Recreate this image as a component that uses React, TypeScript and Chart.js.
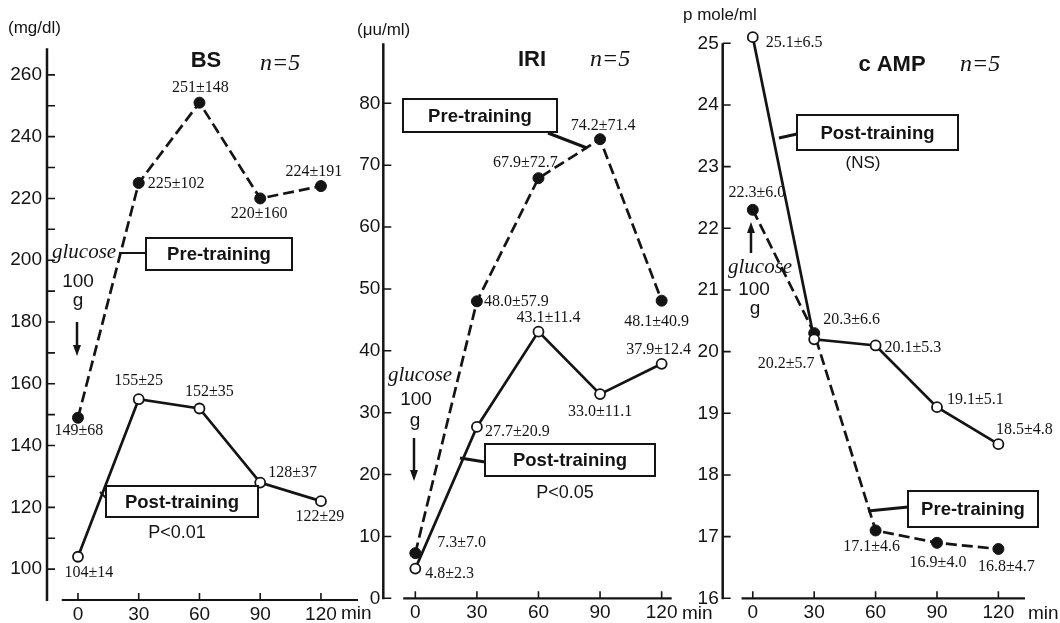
import { useEffect, useRef } from 'react';
import { Chart, registerables } from 'chart.js';

Chart.register(...registerables);

const W = 1060;
const H = 623;
const Y_AXIS_W = 60;
const INK = '#141414';
const SANS = '"Liberation Sans", Arial, sans-serif';
const SERIF = '"Liberation Serif", "Times New Roman", serif';

// Sampling times after the 100 g oral glucose load (min)
const minutes = [0, 30, 60, 90, 120];
const minuteTicks = [0, 30, 60, 90, 120];

// Blood sugar, mg/dl (mean ± SD)
const bsPre = [149, 225, 251, 220, 224];
const bsPreSd = [68, 102, 148, 160, 191];
const bsPost = [104, 155, 152, 128, 122];
const bsPostSd = [14, 25, 35, 37, 29];
const bsTicks = [100, 110, 120, 130, 140, 150, 160, 170, 180, 190, 200, 210, 220, 230, 240, 250, 260];
const bsTickLabels = [100, 120, 140, 160, 180, 200, 220, 240, 260];

// Immunoreactive insulin, μU/ml (mean ± SD)
const iriPre = [7.3, 48.0, 67.9, 74.2, 48.1];
const iriPreSd = [7.0, 57.9, 72.7, 71.4, 40.9];
const iriPost = [4.8, 27.7, 43.1, 33.0, 37.9];
const iriPostSd = [2.3, 20.9, 11.4, 11.1, 12.4];
const iriTicks = [0, 10, 20, 30, 40, 50, 60, 70, 80];

// Cyclic AMP, pmole/ml (mean ± SD)
const campPre = [22.3, 20.3, 17.1, 16.9, 16.8];
const campPreSd = [6.0, 6.6, 4.6, 4.0, 4.7];
const campPost = [25.1, 20.2, 20.1, 19.1, 18.5];
const campPostSd = [6.5, 5.7, 5.3, 5.1, 4.8];
const campTicks = [16, 17, 18, 19, 20, 21, 22, 23, 24, 25];

type Offset = [number, number, CanvasTextAlign];

type Note =
  | { t: 'text'; s: string; x: number; y: number; font: string; align?: CanvasTextAlign }
  | { t: 'box'; s: string; x: number; y: number; w: number; h: number }
  | { t: 'line'; pts: number[]; lw?: number }
  | { t: 'arrow'; x: number; from: number; to: number };

interface PanelSpec {
  area: { left: number; right: number; top: number; bottom: number };
  xRange: [number, number];
  xLineStart: number;
  yRange: [number, number];
  yTicks: number[];
  yLabels: number[];
  yLabelPad: number;
  pre: number[];
  preSd: number[];
  post: number[];
  postSd: number[];
  decimals: number;
  preOffsets: Offset[];
  postOffsets: Offset[];
  notes: Note[];
}

const boxFont = `bold 18.5px ${SANS}`;
const valueFont = `16px ${SERIF}`;

const panels: PanelSpec[] = [
  {
    area: { left: 47, right: 358, top: 48.3, bottom: 600 },
    xRange: [-15.3, 138.3],
    xLineStart: -8,
    yRange: [90, 268.6],
    yTicks: bsTicks,
    yLabels: bsTickLabels,
    yLabelPad: 5,
    pre: bsPre,
    preSd: bsPreSd,
    post: bsPost,
    postSd: bsPostSd,
    decimals: 0,
    preOffsets: [[1, 13, 'center'], [9, 1, 'left'], [1, -15, 'center'], [-1, 15, 'center'], [-7, -14, 'center']],
    postOffsets: [[11, 16, 'center'], [0, -18, 'center'], [10, -17, 'center'], [8, -10, 'left'], [-1, 16, 'center']],
    notes: [
      { t: 'text', s: '(mg/dl)', x: 8, y: 28, font: `17px ${SANS}`, align: 'left' },
      { t: 'text', s: 'BS', x: 206, y: 61, font: `bold 22px ${SANS}` },
      { t: 'text', s: 'n=5', x: 260, y: 64, font: `italic 24px ${SERIF}`, align: 'left' },
      { t: 'text', s: 'glucose', x: 52, y: 252, font: `italic 21px ${SERIF}`, align: 'left' },
      { t: 'text', s: '100', x: 78, y: 282, font: `19px ${SANS}` },
      { t: 'text', s: 'g', x: 78, y: 301, font: `19px ${SANS}` },
      { t: 'arrow', x: 77, from: 322, to: 356 },
      { t: 'line', pts: [146, 253, 119, 253] },
      { t: 'box', s: 'Pre-training', x: 146, y: 238, w: 146, h: 32 },
      { t: 'line', pts: [106, 498, 100, 492] },
      { t: 'box', s: 'Post-training', x: 106, y: 486, w: 152, h: 31 },
      { t: 'text', s: 'P<0.01', x: 177, y: 533, font: `18px ${SANS}` },
      { t: 'text', s: 'min', x: 341, y: 614, font: `19px ${SANS}`, align: 'left' },
    ],
  },
  {
    area: { left: 383.3, right: 671.7, top: 43.3, bottom: 598.3 },
    xRange: [-15.6, 124.9],
    xLineStart: -5.9,
    yRange: [0, 89.7],
    yTicks: iriTicks,
    yLabels: iriTicks,
    yLabelPad: 3,
    pre: iriPre,
    preSd: iriPreSd,
    post: iriPost,
    postSd: iriPostSd,
    decimals: 1,
    preOffsets: [[22, -10, 'left'], [7, 0, 'left'], [-13, -15, 'center'], [3, -13, 'center'], [-5, 21, 'center']],
    postOffsets: [[10, 5, 'left'], [8, 5, 'left'], [10, -14, 'center'], [0, 18, 'center'], [-3, -14, 'center']],
    notes: [
      { t: 'text', s: '(μu/ml)', x: 357, y: 30, font: `17px ${SANS}`, align: 'left' },
      { t: 'text', s: 'IRI', x: 532, y: 60, font: `bold 22px ${SANS}` },
      { t: 'text', s: 'n=5', x: 590, y: 60, font: `italic 24px ${SERIF}`, align: 'left' },
      { t: 'text', s: 'glucose', x: 388, y: 375, font: `italic 21px ${SERIF}`, align: 'left' },
      { t: 'text', s: '100', x: 416, y: 400, font: `19px ${SANS}` },
      { t: 'text', s: 'g', x: 415, y: 421, font: `19px ${SANS}` },
      { t: 'arrow', x: 414, from: 438, to: 481 },
      { t: 'line', pts: [548, 133, 587, 148], lw: 3 },
      { t: 'box', s: 'Pre-training', x: 403, y: 99, w: 154, h: 33 },
      { t: 'line', pts: [485, 462, 460, 458], lw: 3 },
      { t: 'box', s: 'Post-training', x: 485, y: 444, w: 170, h: 32 },
      { t: 'text', s: 'P<0.05', x: 565, y: 493, font: `18px ${SANS}` },
      { t: 'text', s: 'min', x: 682, y: 614, font: `19px ${SANS}`, align: 'left' },
    ],
  },
  {
    area: { left: 722.7, right: 1025, top: 43.3, bottom: 598.3 },
    xRange: [-14.7, 133.0],
    xLineStart: -5.5,
    yRange: [16, 25],
    yTicks: campTicks,
    yLabels: campTicks,
    yLabelPad: 4,
    pre: campPre,
    preSd: campPreSd,
    post: campPost,
    postSd: campPostSd,
    decimals: 1,
    preOffsets: [[4, -17, 'center'], [9, -13, 'left'], [-4, 16, 'center'], [1, 20, 'center'], [8, 18, 'center']],
    postOffsets: [[13, 6, 'left'], [-28, 24, 'center'], [9, 2, 'left'], [10, -7, 'left'], [26, -14, 'center']],
    notes: [
      { t: 'text', s: 'p mole/ml', x: 683, y: 15, font: `17px ${SANS}`, align: 'left' },
      { t: 'text', s: 'c AMP', x: 892, y: 65, font: `bold 22px ${SANS}` },
      { t: 'text', s: 'n=5', x: 960, y: 65, font: `italic 24px ${SERIF}`, align: 'left' },
      { t: 'arrow', x: 751, from: 253, to: 222 },
      { t: 'text', s: 'glucose', x: 728, y: 267, font: `italic 21px ${SERIF}`, align: 'left' },
      { t: 'text', s: '100', x: 754, y: 290, font: `19px ${SANS}` },
      { t: 'text', s: 'g', x: 755, y: 309, font: `19px ${SANS}` },
      { t: 'line', pts: [797, 134, 779, 138], lw: 3 },
      { t: 'box', s: 'Post-training', x: 797, y: 115, w: 161, h: 35 },
      { t: 'text', s: '(NS)', x: 863, y: 163, font: `17px ${SANS}` },
      { t: 'line', pts: [908, 507, 868, 511], lw: 3 },
      { t: 'box', s: 'Pre-training', x: 908, y: 491, w: 130, h: 36 },
      { t: 'text', s: 'min', x: 1028, y: 614, font: `19px ${SANS}`, align: 'left' },
    ],
  },
];

function fmt(v: number, sd: number, d: number) {
  return `${v.toFixed(d)}±${sd.toFixed(d)}`;
}

// Draws the axis frame (detached x axis, inward ticks), the value labels
// beside each point and the panel annotations.
function makeDecor(spec: PanelSpec) {
  return {
    id: 'panelDecor',
    afterDraw(chart: any) {
      const ctx: CanvasRenderingContext2D = chart.ctx;
      const { left, right, top, bottom } = chart.chartArea;
      const xs = chart.scales.x;
      const ys = chart.scales.y;
      ctx.save();
      ctx.strokeStyle = INK;
      ctx.fillStyle = INK;
      ctx.lineCap = 'butt';

      // vertical axis
      ctx.lineWidth = 2.5;
      ctx.beginPath();
      ctx.moveTo(left, top);
      ctx.lineTo(left, bottom + 1);
      ctx.stroke();
      ctx.lineWidth = 1.6;
      ctx.beginPath();
      spec.yTicks.forEach((v) => {
        const y = ys.getPixelForValue(v);
        ctx.moveTo(left, y);
        ctx.lineTo(left + 8, y);
      });
      ctx.stroke();

      // horizontal axis, detached from the vertical one
      ctx.lineWidth = 2.2;
      ctx.beginPath();
      ctx.moveTo(xs.getPixelForValue(spec.xLineStart), bottom);
      ctx.lineTo(right, bottom);
      ctx.stroke();
      ctx.lineWidth = 1.6;
      ctx.beginPath();
      minuteTicks.forEach((v) => {
        const x = xs.getPixelForValue(v);
        ctx.moveTo(x, bottom);
        ctx.lineTo(x, bottom - 7);
      });
      ctx.stroke();

      // value labels (mean ± SD)
      ctx.font = valueFont;
      ctx.textBaseline = 'middle';
      const label = (vals: number[], sds: number[], offs: Offset[]) => {
        vals.forEach((v, i) => {
          const [dx, dy, align] = offs[i];
          ctx.textAlign = align;
          ctx.fillText(
            fmt(v, sds[i], spec.decimals),
            xs.getPixelForValue(minutes[i]) + dx,
            ys.getPixelForValue(v) + dy
          );
        });
      };
      label(spec.pre, spec.preSd, spec.preOffsets);
      label(spec.post, spec.postSd, spec.postOffsets);

      // annotations
      spec.notes.forEach((n) => {
        if (n.t === 'text') {
          ctx.font = n.font;
          ctx.textAlign = n.align ?? 'center';
          ctx.textBaseline = 'middle';
          ctx.fillText(n.s, n.x, n.y);
        } else if (n.t === 'line') {
          ctx.lineWidth = n.lw ?? 2;
          ctx.beginPath();
          ctx.moveTo(n.pts[0], n.pts[1]);
          for (let k = 2; k < n.pts.length; k += 2) ctx.lineTo(n.pts[k], n.pts[k + 1]);
          ctx.stroke();
        } else if (n.t === 'box') {
          ctx.fillStyle = '#fff';
          ctx.fillRect(n.x, n.y, n.w, n.h);
          ctx.fillStyle = INK;
          ctx.lineWidth = 2;
          ctx.strokeRect(n.x, n.y, n.w, n.h);
          ctx.font = boxFont;
          ctx.textAlign = 'center';
          ctx.textBaseline = 'middle';
          ctx.fillText(n.s, n.x + n.w / 2, n.y + n.h / 2 + 1);
        } else if (n.t === 'arrow') {
          const dir = n.to > n.from ? 1 : -1;
          const headLen = 11;
          ctx.lineWidth = 2.5;
          ctx.beginPath();
          ctx.moveTo(n.x, n.from);
          ctx.lineTo(n.x, n.to - dir * headLen);
          ctx.stroke();
          ctx.beginPath();
          ctx.moveTo(n.x, n.to);
          ctx.lineTo(n.x - 4, n.to - dir * headLen);
          ctx.lineTo(n.x + 4, n.to - dir * headLen);
          ctx.closePath();
          ctx.fill();
        }
      });
      ctx.restore();
    },
  };
}

function buildConfig(spec: PanelSpec): any {
  const { area } = spec;
  return {
    type: 'line',
    data: {
      datasets: [
        {
          label: 'Pre-training',
          data: minutes.map((m, i) => ({ x: m, y: spec.pre[i] })),
          borderColor: INK,
          borderWidth: 2.7,
          borderDash: [11, 5],
          pointRadius: 5.5,
          pointBackgroundColor: INK,
          pointBorderColor: INK,
          pointBorderWidth: 1,
          tension: 0,
          clip: false,
          order: 1,
        },
        {
          label: 'Post-training',
          data: minutes.map((m, i) => ({ x: m, y: spec.post[i] })),
          borderColor: INK,
          borderWidth: 2.7,
          pointRadius: 5,
          pointBackgroundColor: '#fff',
          pointBorderColor: INK,
          pointBorderWidth: 1.8,
          tension: 0,
          clip: false,
          order: 0,
        },
      ],
    },
    options: {
      animation: false,
      responsive: false,
      maintainAspectRatio: false,
      events: [],
      layout: {
        autoPadding: false,
        padding: { left: area.left - Y_AXIS_W, right: W - area.right, top: area.top, bottom: 0 },
      },
      plugins: { legend: { display: false }, tooltip: { enabled: false } },
      scales: {
        x: {
          type: 'linear',
          min: spec.xRange[0],
          max: spec.xRange[1],
          grid: { display: false, drawTicks: false },
          border: { display: false },
          afterFit: (s: any) => {
            s.height = H - area.bottom;
          },
          afterBuildTicks: (s: any) => {
            s.ticks = minuteTicks.map((v) => ({ value: v }));
          },
          ticks: {
            color: INK,
            font: { family: SANS, size: 19 },
            padding: 3,
            autoSkip: false,
            maxRotation: 0,
            callback: (v: number) => String(v),
          },
        },
        y: {
          type: 'linear',
          min: spec.yRange[0],
          max: spec.yRange[1],
          grid: { display: false, drawTicks: false },
          border: { display: false },
          afterFit: (s: any) => {
            s.width = Y_AXIS_W;
          },
          afterBuildTicks: (s: any) => {
            s.ticks = spec.yTicks.map((v) => ({ value: v }));
          },
          ticks: {
            color: INK,
            font: { family: SANS, size: 19 },
            padding: spec.yLabelPad,
            autoSkip: false,
            callback: (v: number) => (spec.yLabels.includes(v) ? String(v) : ''),
          },
        },
      },
    },
    plugins: [makeDecor(spec)],
  };
}

function Panel({ spec }: { spec: PanelSpec }) {
  const ref = useRef<HTMLCanvasElement>(null);
  useEffect(() => {
    const chart = new Chart(ref.current as HTMLCanvasElement, buildConfig(spec));
    return () => chart.destroy();
  }, [spec]);
  return (
    <canvas
      ref={ref}
      width={W}
      height={H}
      style={{ position: 'absolute', left: 0, top: 0, width: W, height: H }}
    />
  );
}

export default function App() {
  return (
    <div
      style={{
        position: 'absolute',
        left: 0,
        top: 0,
        width: W,
        height: H,
        background: '#fff',
        overflow: 'hidden',
      }}
    >
      {panels.map((p, i) => (
        <Panel key={i} spec={p} />
      ))}
    </div>
  );
}
